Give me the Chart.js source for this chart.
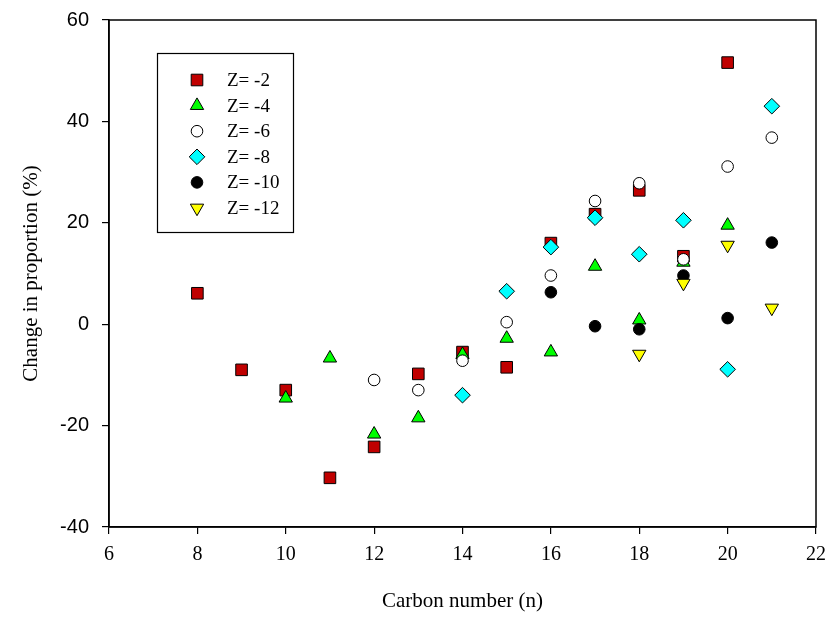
<!DOCTYPE html>
<html>
<head>
<meta charset="utf-8">
<script src="https://cdn.jsdelivr.net/npm/chart.js@4/dist/chart.umd.min.js"></script>
<style>
html,body{margin:0;padding:0;background:#fff;}
#wrap{width:832px;height:622px;}
</style>
</head>
<body>
<div id="wrap"><canvas id="c" width="832" height="622"></canvas></div>
<script>
const seriesNames = ["Z= -2", "Z= -4", "Z= -6", "Z= -8", "Z= -10", "Z= -12"];
const xZ2 = [8, 9, 10, 11, 12, 13, 14, 15, 16, 17, 18, 19, 20];
const yZ2 = [6.1, -9, -13, -30.3, -24.2, -9.8, -5.5, -8.5, 16, 21.7, 26.4, 13.4, 51.6];
const xZ4 = [10, 11, 12, 13, 14, 15, 16, 17, 18, 19, 20];
const yZ4 = [-14.6, -6.7, -21.7, -18.5, -6, -2.8, -5.5, 11.4, 0.8, 12.2, 19.5];
const xZ6 = [12, 13, 14, 15, 16, 17, 18, 19, 20, 21];
const yZ6 = [-11, -13, -7.2, 0.4, 9.6, 24.3, 27.8, 12.8, 31.1, 36.8];
const xZ8 = [14, 15, 16, 17, 18, 19, 20, 21];
const yZ8 = [-14, 6.5, 15.2, 21, 13.8, 20.5, -8.9, 43];
const xZ10 = [16, 17, 18, 19, 20, 21];
const yZ10 = [6.3, -0.4, -1, 9.6, 1.2, 16.1];
const xZ12 = [18, 19, 20, 21];
const yZ12 = [-5.9, 8.1, 15.6, 3.2];
const xTitle = "Carbon number (n)";
const yTitle = "Change in proportion (%)";

const xs = [xZ2, xZ4, xZ6, xZ8, xZ10, xZ12];
const ys = [yZ2, yZ4, yZ6, yZ8, yZ10, yZ12];
const styles = [
  {pointStyle: 'rect', radius: 8.2, fill: '#C00000', rot: 0},
  {pointStyle: 'triangle', radius: 7.7, fill: '#00FF00', rot: 0},
  {pointStyle: 'circle', radius: 5.8, fill: '#FFFFFF', rot: 0},
  {pointStyle: 'rectRot', radius: 7.8, fill: '#00FFFF', rot: 0},
  {pointStyle: 'circle', radius: 5.8, fill: '#000000', rot: 0},
  {pointStyle: 'triangle', radius: 7.7, fill: '#FFFF00', rot: 180}
];

const datasets = seriesNames.map((name, i) => ({
  label: name,
  data: xs[i].map((x, j) => ({x: x, y: ys[i][j]})),
  pointStyle: styles[i].pointStyle,
  pointRadius: styles[i].radius,
  pointHoverRadius: styles[i].radius,
  pointRotation: styles[i].rot,
  backgroundColor: styles[i].fill,
  borderColor: '#000000',
  borderWidth: 1,
  showLine: false,
  order: seriesNames.length - i
}));

const framePlugin = {
  id: 'frame',
  afterDraw(chart) {
    const {ctx, chartArea: a} = chart;
    ctx.save();
    ctx.strokeStyle = '#000';
    ctx.lineWidth = 1.5;
    ctx.strokeRect(a.left, a.top, a.right - a.left, a.bottom - a.top);
    ctx.restore();
  }
};

const legendPlugin = {
  id: 'boxLegend',
  afterDraw(chart) {
    const ctx = chart.ctx;
    ctx.save();
    ctx.strokeStyle = '#000';
    ctx.lineWidth = 1.2;
    ctx.strokeRect(157.5, 53.5, 136, 179);
    const rowY0 = 80, rowDy = 25.6;
    ctx.font = '19px "Liberation Serif", "Times New Roman", serif';
    ctx.fillStyle = '#000';
    ctx.textBaseline = 'middle';
    ctx.textAlign = 'left';
    seriesNames.forEach((name, i) => {
      const y = rowY0 + i * rowDy;
      const s = styles[i];
      const opts = {pointStyle: s.pointStyle, radius: s.radius, rotation: s.rot, borderWidth: 1};
      ctx.fillStyle = s.fill;
      ctx.strokeStyle = '#000';
      ctx.lineWidth = 1;
      Chart.helpers.drawPoint(ctx, opts, 197, y);
      ctx.fillStyle = '#000';
      ctx.fillText(name, 227, y + 1);
    });
    ctx.restore();
  }
};

new Chart(document.getElementById('c'), {
  type: 'scatter',
  data: {datasets: datasets},
  options: {
    responsive: false,
    animation: false,
    devicePixelRatio: 1,
    layout: {padding: {left: 0, right: 16, top: 20, bottom: 8}},
    plugins: {legend: {display: false}, tooltip: {enabled: false}},
    scales: {
      x: {
        type: 'linear', min: 6, max: 22,
        ticks: {stepSize: 2, color: '#000', padding: 9,
          font: {family: '"Liberation Serif", "Times New Roman", serif', size: 20}},
        grid: {drawOnChartArea: false, drawTicks: true, tickLength: 7, color: '#000', lineWidth: 1.2},
        border: {display: true, color: '#000', width: 1.5},
        title: {display: true, text: xTitle, color: '#000', padding: {top: 0, bottom: 0},
          font: {family: '"Liberation Serif", "Times New Roman", serif', size: 21}},
        afterFit(scale) { scale.height = 87; scale.paddingLeft = 0; scale.paddingRight = 0; }
      },
      y: {
        type: 'linear', min: -40, max: 60,
        ticks: {stepSize: 20, color: '#000', padding: 13,
          font: {family: '"Liberation Sans", Arial, sans-serif', size: 20}},
        grid: {drawOnChartArea: false, drawTicks: true, tickLength: 7, color: '#000', lineWidth: 1.2},
        border: {display: true, color: '#000', width: 1.5},
        title: {display: true, text: yTitle, color: '#000', padding: {top: 19, bottom: 0},
          font: {family: '"Liberation Serif", "Times New Roman", serif', size: 21}},
        afterFit(scale) { scale.width = 109; scale.paddingTop = 0; scale.paddingBottom = 0; }
      }
    }
  },
  plugins: [framePlugin, legendPlugin]
});
</script>
</body>
</html>
